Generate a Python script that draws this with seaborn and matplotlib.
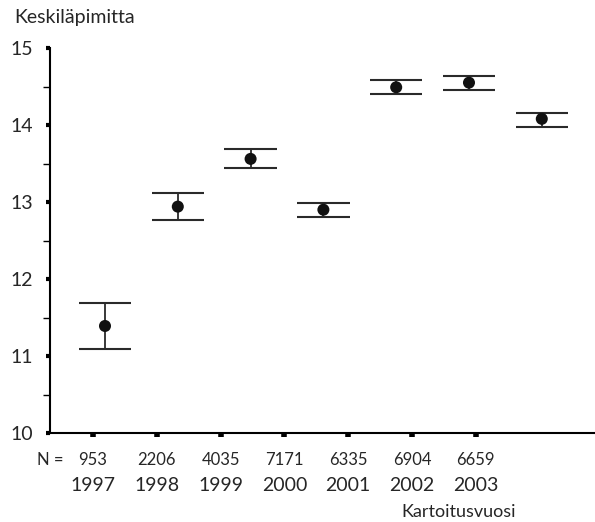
import numpy as np
import pandas as pd
import matplotlib
matplotlib.use("Agg")
import matplotlib.pyplot as plt
import seaborn as sns

years = ["1997", "1998", "1999", "2000", "2001", "2002", "2003"]
n_counts = ["953", "2206", "4035", "7171", "6335", "6904", "6659"]
means = [11.39, 12.94, 13.56, 12.90, 14.49, 14.55, 14.08]
lower = [11.09, 12.77, 13.44, 12.81, 14.40, 14.45, 13.97]
upper = [11.69, 13.12, 13.69, 12.99, 14.58, 14.64, 14.16]

sns.set_theme(style="ticks")
plt.rcParams["font.family"] = ["Lato", "DejaVu Sans"]

fig = plt.figure(figsize=(5.95, 5.22), dpi=100)
ax = fig.add_axes([50 / 595, (522 - 433) / 522, 1 - 50 / 595, (433 - 48) / 522])

idx = np.arange(len(years))
# points in the original are offset/spaced differently from the category ticks
px = 0.188 + idx * 1.141
df = pd.DataFrame({"x": px, "mean": means, "lo": lower, "hi": upper})

line_col = "#2a2a2a"
ax.vlines(df["x"], df["lo"], df["hi"], color=line_col, lw=1.3, zorder=2)
ax.hlines(df["lo"], df["x"] - 0.41, df["x"] + 0.41, color=line_col, lw=1.5, zorder=2)
ax.hlines(df["hi"], df["x"] - 0.41, df["x"] + 0.41, color=line_col, lw=1.5, zorder=2)
sns.scatterplot(data=df, x="x", y="mean", ax=ax, color="#111111", s=75,
                edgecolor="none", zorder=3, legend=False)

ax.set_xlim(-0.674, 7.868)
ax.set_ylim(10, 15)
ax.set_yticks([10, 11, 12, 13, 14, 15])
ax.set_yticks(np.arange(10.5, 15, 1.0), minor=True)
ax.set_yticklabels([str(v) for v in [10, 11, 12, 13, 14, 15]], fontsize=14)
ax.tick_params(axis="y", which="major", length=3, width=3, pad=9, color="black")
ax.tick_params(axis="y", which="minor", length=5, width=1, color="black")
ax.set_xticks(idx)
ax.set_xticklabels(years, fontsize=14)
ax.tick_params(axis="x", which="major", length=3, width=4, pad=29, color="black")

for sp in ["top", "right"]:
    ax.spines[sp].set_visible(False)
for sp in ["left", "bottom"]:
    ax.spines[sp].set_linewidth(1.5)
    ax.spines[sp].set_color("black")

ax.set_xlabel("")
ax.set_ylabel("")

trans = ax.get_xaxis_transform()
for i, n in enumerate(n_counts):
    ax.text(idx[i], -0.07, n, transform=trans, ha="center", va="center", fontsize=12)
ax.text(-0.674, -0.07, "N =", transform=trans, ha="center", va="center", fontsize=12)

fig.text(14 / 595, 1 - 18 / 522, "Keskiläpimitta", ha="left", va="center", fontsize=14)
fig.text(516 / 595, 1 - 512 / 522, "Kartoitusvuosi", ha="right", va="center", fontsize=13)

fig.savefig("out.png", dpi=100)
